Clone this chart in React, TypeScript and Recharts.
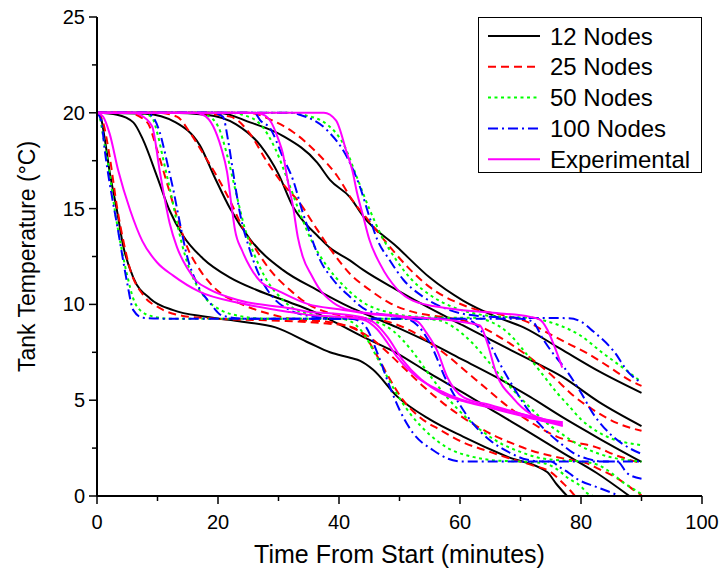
import React from "react";
import { LineChart, Line, XAxis, YAxis } from "recharts";

type Pt = [number, number];

// 12 nodes (black), one curve per sensor height
const black0: Pt[] = [[0,20],[0.5,19.9],[1.3,18.6],[2.1,16.9],[3.3,14.9],[4.3,13.1],[6,11.4],[8.8,10.3],[12.6,9.7],[18,9.35],[24,9.1],[29.5,8.8],[35,8.0],[38.5,7.5],[42,7.2],[43.5,7.05],[45.6,6.6],[49.6,5.2],[55,4.0],[60.5,3.1],[67.8,2.05],[74.4,1.25],[76,0.6],[77.7,0]];
const black1: Pt[] = [[0,20],[3.3,19.9],[6,19.5],[7.6,18.6],[9.9,16.7],[12,14.9],[14.2,13.6],[17.5,12.4],[22,11.4],[26.4,10.75],[31.9,10.1],[35.2,9.7],[38.5,9.2],[44,8.3],[49.6,7.45],[55,6.4],[60.5,5.4],[66,4.35],[71.6,3.3],[77,2.25],[82.6,1.2],[88,0]];
const black2: Pt[] = [[0,20],[8,19.95],[13,19.5],[17,18.3],[19.5,16.6],[22,15],[25.3,13.4],[30.7,11.8],[36.4,10.75],[41.8,9.86],[44,9.55],[49.6,8.8],[55,8.0],[60.5,7.1],[66,6.2],[71.6,5.17],[77,4.1],[83,3.0],[90,1.78]];
const black3: Pt[] = [[0,20],[12,20],[18,19.9],[23,19.4],[27,18.3],[30,16.8],[32.4,15.1],[34.5,14.2],[36.4,13.6],[38.5,12.95],[41.8,12.3],[44,11.8],[49.6,10.75],[55,9.8],[60.5,8.9],[66,8.0],[71.6,7.1],[77,6.2],[83,4.9],[90,3.65]];
const black4: Pt[] = [[0,20],[20,20],[25.3,19.5],[30.7,18.8],[36.4,17.4],[38.5,16.5],[41.8,15.6],[44,14.6],[49.6,13],[55,11.4],[60.5,10.2],[66,9.35],[70.5,8.8],[76.5,7.7],[83,6.5],[90,5.38]];

// 25 nodes (red)
const red0: Pt[] = [[0,20],[1,19.5],[2.1,17.7],[3.3,15.1],[4.3,13.4],[5.5,11.8],[7.6,10.5],[10.4,9.8],[14.2,9.4],[20,9.25],[30,9.15],[38,9.0],[41,8.9],[43,8.7],[44.6,8.2],[46.5,7.2],[48.4,6.1],[50.6,5.0],[53.4,4.1],[56.7,3.45],[60.5,2.8],[64.5,2.35],[68.8,1.9],[72,1.6],[75,1.25],[77,0.68],[78.2,0.3],[79,0]];
const red1: Pt[] = [[0,20],[5,20],[8.3,19.5],[9.9,18.1],[11.6,16.3],[13.2,14.6],[14.9,13],[17,11.8],[19.8,10.75],[23.6,10.05],[28,9.55],[33,9.2],[38,9.1],[42,8.8],[45,8.3],[48,7.5],[51,6.6],[54,5.7],[57,4.9],[60,4.2],[63,3.6],[66,3.1],[69,2.7],[72,2.35],[75,2.1],[78,1.9],[81,1.7],[83,1.4],[85,1.1],[87.5,0.6],[89,0.25],[90,0.05]];
const red2: Pt[] = [[0,20],[10,20],[13.2,19.8],[15.4,18.95],[17.5,17.9],[19.8,16.7],[22,15.4],[24.1,14],[26.4,12.8],[28.6,11.8],[31.9,10.75],[34.7,10.05],[38.5,9.55],[44,9.3],[48,9.1],[52,8.6],[55,8.0],[58,7.3],[61,6.5],[64,5.7],[67,4.9],[70,4.2],[73,3.6],[76,3.1],[79,2.8],[82,2.6],[86,2.1],[90,1.7]];
const red3: Pt[] = [[0,20],[15,20],[22,19.8],[25.3,18.9],[28,17.5],[30.7,16.3],[33.5,15.3],[36.4,13.9],[39,12.7],[41.8,11.6],[45.1,10.75],[48.4,10.07],[52.9,9.55],[57,9.35],[60,9.2],[63,8.9],[66,8.4],[69,7.8],[72.5,7.0],[75.5,6.2],[78.5,5.3],[82,4.5],[86,3.8],[90,3.4]];
const red4: Pt[] = [[0,20],[25,20],[29,19.6],[32.4,19],[36.4,17.9],[39.7,16.7],[42.3,15.4],[45.1,14.3],[47.9,13.2],[51.2,12],[55,10.9],[59.5,10.1],[63,9.7],[67,9.45],[71,9.1],[74,8.6],[77.7,7.98],[81,7.46],[84.8,6.7],[88,6.05],[90,5.75]];

// 50 nodes (green)
const green0: Pt[] = [[0,20],[0.5,19.7],[1,18.8],[2,17],[3,14.8],[4,13],[5,11.5],[6,10.3],[7.5,9.6],[9.5,9.35],[12,9.25],[40,9.25],[42,9.1],[44,8.5],[46,7.4],[48,6.2],[50,5.1],[52,4.2],[55,3.2],[58,2.5],[62,2.05],[66,1.85],[70,1.8],[74,1.7],[76,1.4],[78,0.9],[80,0.5],[81,0.15],[82,0]];
const green1: Pt[] = [[0,20],[7,20],[9,19.8],[10,18.9],[11,17.5],[12.2,15.8],[13.4,14],[14.6,12.5],[16,11.3],[18,10.3],[20.5,9.7],[23.5,9.4],[28,9.25],[42,9.25],[46,9.1],[49,8.6],[52,7.6],[55,6.3],[58,5.1],[61,4.1],[64,3.3],[67,2.7],[70,2.3],[73,2.0],[77,1.85],[80,1.8],[83,1.6],[85,1.2],[87,0.7],[89,0.3],[90,0.1]];
const green2: Pt[] = [[0,20],[17,20],[18,19.9],[20,19.3],[21.5,17.8],[23,15.8],[24.5,13.9],[26,12.6],[28,11.3],[30.5,10.3],[33,9.7],[37,9.4],[42,9.25],[52,9.25],[56,9.2],[59,8.8],[62,8.0],[65,6.9],[68,5.8],[71,4.8],[74,3.9],[77,3.2],[80,2.6],[83,2.2],[86,1.95],[90,1.8]];
const green3: Pt[] = [[0,20],[22,20],[24,19.9],[27,19.4],[29.5,18.1],[31.5,16.5],[33.5,14.8],[35.5,13.3],[38,12],[41,10.9],[44,10.1],[48,9.6],[53,9.35],[58,9.3],[62,9.3],[65,9.1],[68,8.5],[70,7.8],[72,7.0],[74,6.2],[76,5.4],[78,4.7],[80,4.0],[82.5,3.4],[85,3.0],[88,2.75],[90,2.65]];
const green4: Pt[] = [[0,20],[32,20],[34,19.9],[38,19.4],[41,18.2],[43,16.6],[45,15],[47,13.6],[49.5,12.3],[52,11.3],[55,10.5],[58.5,9.9],[62,9.55],[67,9.35],[72,9.3],[74,9.15],[76.5,8.9],[79.8,8.4],[83.6,7.46],[86.9,6.7],[90,5.95]];

// 100 nodes (blue)
const blue0: Pt[] = [[0,20],[0.7,19.6],[1.3,18],[2,16.5],[2.6,15.4],[3.4,14],[4.1,12.7],[5,11.1],[6,9.7],[7.6,9.3],[12,9.25],[42,9.25],[43.5,9.1],[44.5,8.8],[46.3,7.5],[48.4,5.7],[50,4.5],[52.2,3.3],[55.5,2.4],[58,1.95],[60.5,1.8],[75,1.8],[76.5,1.5],[78,1.2],[79.3,0.9],[82.3,0.5],[84,0.3],[86,0.05]];
const blue1: Pt[] = [[0,20],[8,20],[9.2,19.8],[10.4,18.95],[11.6,17.4],[12.6,16],[13.7,14.25],[14.9,12.5],[16.5,11.1],[18.7,10.07],[20.8,9.4],[25,9.25],[51,9.25],[53,8.9],[55,8.0],[57.8,6.0],[60.5,4.5],[62.1,3.8],[65,2.9],[68.3,2.25],[71,1.9],[74,1.8],[86,1.8],[87.6,1.2],[90,0.9]];
const blue2: Pt[] = [[0,20],[19,20],[20.8,19.8],[21.7,18.5],[22.5,16.9],[23.6,14.8],[25.3,12.8],[27,11.4],[29,10.4],[31.9,9.7],[36,9.35],[40,9.25],[60,9.25],[62,9.1],[63.3,8.7],[65,7.9],[66.6,6.9],[68.8,5.7],[71,4.6],[73,3.8],[74.9,3.2],[76.8,2.7],[78.7,2.25],[81,1.95],[84,1.8],[90,1.8]];
const blue3: Pt[] = [[0,20],[26,20],[27,19.6],[28.6,19.2],[30.7,17.7],[32.4,16.5],[34,14.8],[35.2,13.7],[36.9,12.3],[39,11.3],[41.8,10.4],[44.6,9.7],[50,9.35],[55,9.25],[70,9.25],[72,9.1],[73.7,8.2],[75,7.6],[77,6.8],[79.8,5.5],[82,4.3],[85.3,3.1],[88,2.5],[90,2.2]];
const blue4: Pt[] = [[0,20],[32,20],[33.5,19.9],[38,19.1],[41.3,17.7],[43.5,16.1],[45,14.6],[46.3,13.4],[48.4,12.3],[50.6,11.3],[53.9,10.4],[58.3,9.7],[63,9.4],[70,9.3],[78,9.28],[80,9.1],[82,8.6],[85.3,7.6],[88,6.4],[90,5.9]];

// experimental (magenta)
const exp0: Pt[] = [[0,20],[1,19.8],[2.1,18.9],[3.5,17],[5.5,14.9],[7.5,13.3],[9.9,12.2],[12.6,11.5],[17,10.65],[23.6,10.07],[31.9,9.6],[35.2,9.45],[40,9.35],[44,9.2],[46.3,8.7],[48,8.0],[49.6,7.26],[52.9,6.2],[56.7,5.5],[60,5.05],[65,4.65],[70,4.3],[74,3.9],[77,3.65]];
const exp1: Pt[] = [[0,20],[6,20],[7.1,19.9],[9.1,19.3],[10.4,16.9],[12,14.25],[13.2,13],[14.9,11.9],[16.5,11.2],[18.5,10.8],[23.6,10.2],[31.9,9.8],[35.2,9.6],[40,9.5],[44,9.3],[46,9.0],[48,8.3],[50.5,7.1],[53.5,6.1],[57,5.35],[60.5,4.95],[65,4.6],[70,4.2],[74,3.9],[77,3.75]];
const exp2: Pt[] = [[0,20],[16,20],[17.5,19.9],[19.2,19.3],[20.5,18.2],[21.5,16.9],[22.3,15],[22.8,13.9],[24,12.8],[25.3,11.95],[27,11.2],[29.7,10.75],[35,10.0],[40,9.75],[45,9.5],[50,9.35],[53,9.1],[54.5,8.5],[56.2,7.6],[57.9,6.2],[60.6,5.15],[65,4.75],[70,4.3],[74,4.0],[77,3.85]];
const exp3: Pt[] = [[0,20],[25,20],[27,19.95],[28.6,19.6],[30,18.6],[30.7,17.9],[31.5,16.5],[32.4,15.1],[33.2,13.5],[34,12.5],[35.5,11.5],[36.9,10.75],[39,10.1],[41.8,9.7],[50,9.4],[60,9.1],[63.3,8.9],[64.5,8.0],[66,6.4],[68.8,5.1],[71.6,4.3],[74,4.0],[76.9,3.8]];
const exp4: Pt[] = [[0,20],[37.5,20],[39.5,19.6],[41.3,17.9],[42.2,17],[43,15.8],[44,14.6],[45,13.4],[46.8,12.1],[49.6,10.8],[52.2,10.2],[57.9,9.8],[66,9.55],[71.6,9.35],[73.2,9.2],[74.4,8.7],[75.5,7.9],[76.9,6.7]];

const xTicks = [0, 10, 20, 30, 40, 50, 60, 70, 80, 90, 100];
const yTicks = [0, 2.5, 5, 7.5, 10, 12.5, 15, 17.5, 20, 22.5, 25];

const FONT = "Arial, 'Liberation Sans', sans-serif";

const groups = [
  { name: "12 Nodes", color: "#000000", dash: undefined as string | undefined, curves: [black0, black1, black2, black3, black4] },
  { name: "25 Nodes", color: "#FF0000", dash: "8 5", curves: [red0, red1, red2, red3, red4] },
  { name: "50 Nodes", color: "#00FF00", dash: "3 3.5", curves: [green0, green1, green2, green3, green4] },
  { name: "100 Nodes", color: "#0000FF", dash: "10 4 2 4", curves: [blue0, blue1, blue2, blue3, blue4] },
  { name: "Experimental", color: "#FF00FF", dash: undefined as string | undefined, curves: [exp0, exp1, exp2, exp3, exp4] },
];

const toRows = (c: Pt[]) => c.map(([x, y]) => ({ x, y }));

const XTick = (props: any) => {
  const { x, y, payload } = props;
  const major = payload.value % 20 === 0;
  return (
    <g>
      <line x1={x} x2={x} y1={y} y2={y + (major ? 8 : 5)} stroke="#000" strokeWidth={1.5} />
      {major ? (
        <text x={x} y={y + 33} textAnchor="middle" fontSize={20} fontFamily={FONT} fill="#000">
          {payload.value}
        </text>
      ) : null}
    </g>
  );
};

const YTick = (props: any) => {
  const { x, y, payload } = props;
  const major = payload.value % 5 === 0;
  return (
    <g>
      <line x1={x} x2={x - (major ? 8 : 5)} y1={y} y2={y} stroke="#000" strokeWidth={1.5} />
      {major ? (
        <text x={x - 12} y={y + 7} textAnchor="end" fontSize={20} fontFamily={FONT} fill="#000">
          {payload.value}
        </text>
      ) : null}
    </g>
  );
};

const XTitle = (props: any) => {
  const vb = props.viewBox || {};
  return (
    <text x={vb.x + vb.width / 2} y={vb.y + 67} textAnchor="middle" fontSize={25} fontFamily={FONT} fill="#000">
      Time From Start (minutes)
    </text>
  );
};

const YTitle = (props: any) => {
  const vb = props.viewBox || {};
  const cx = 27;
  const cy = vb.y + vb.height / 2;
  return (
    <text x={cx} y={cy} transform={`rotate(-90 ${cx} ${cy})`} textAnchor="middle" dominantBaseline="central" fontSize={23} fontFamily={FONT} fill="#000">
      Tank Temperature (°C)
    </text>
  );
};

const LegendBox = () => (
  <div style={{ position: "absolute", left: 478, top: 17, width: 224, height: 156, border: "1px solid #000", background: "#fff", boxSizing: "border-box" }}>
    <svg width={222} height={154}>
      {groups.map((g, i) => {
        const cy = 18 + i * 30.8;
        return (
          <g key={g.name}>
            <line x1={9} x2={61} y1={cy} y2={cy} stroke={g.color} strokeWidth={2} strokeDasharray={g.dash} />
            <text x={71} y={cy + 8.5} fontSize={24} fontFamily={FONT} fill="#000">{g.name}</text>
          </g>
        );
      })}
    </svg>
  </div>
);

export default function App() {
  return (
    <div style={{ position: "absolute", left: 0, top: 0, width: 719, height: 573, background: "#fff" }}>
      <LineChart width={719} height={573} margin={{ top: 17, right: 17, bottom: 0, left: 0 }}>
        <XAxis
          dataKey="x"
          type="number"
          domain={[0, 100]}
          ticks={xTicks}
          interval={0}
          height={77}
          tickSize={0}
          tickMargin={0}
          tickLine={false}
          tick={<XTick />}
          axisLine={{ stroke: "#000", strokeWidth: 2 }}
          label={<XTitle />}
          allowDataOverflow
        />
        <XAxis xAxisId="top" orientation="top" type="number" domain={[0, 100]} height={0} tick={false} tickLine={false} axisLine={{ stroke: "#000", strokeWidth: 2 }} />
        <YAxis
          type="number"
          domain={[0, 25]}
          ticks={yTicks}
          interval={0}
          width={97}
          tickSize={0}
          tickMargin={0}
          tickLine={false}
          tick={<YTick />}
          axisLine={{ stroke: "#000", strokeWidth: 2 }}
          label={<YTitle />}
          allowDataOverflow
        />
        <YAxis yAxisId="right" orientation="right" type="number" domain={[0, 25]} width={0} tick={false} tickLine={false} axisLine={{ stroke: "#000", strokeWidth: 2 }} />
        {groups.map((g) =>
          g.curves.map((c, j) => (
            <Line
              key={`${g.name}-${j}`}
              data={toRows(c)}
              dataKey="y"
              type="monotone"
              stroke={g.color}
              strokeWidth={2}
              strokeDasharray={g.dash}
              dot={false}
              activeDot={false}
              isAnimationActive={false}
            />
          ))
        )}
      </LineChart>
      <LegendBox />
    </div>
  );
}
